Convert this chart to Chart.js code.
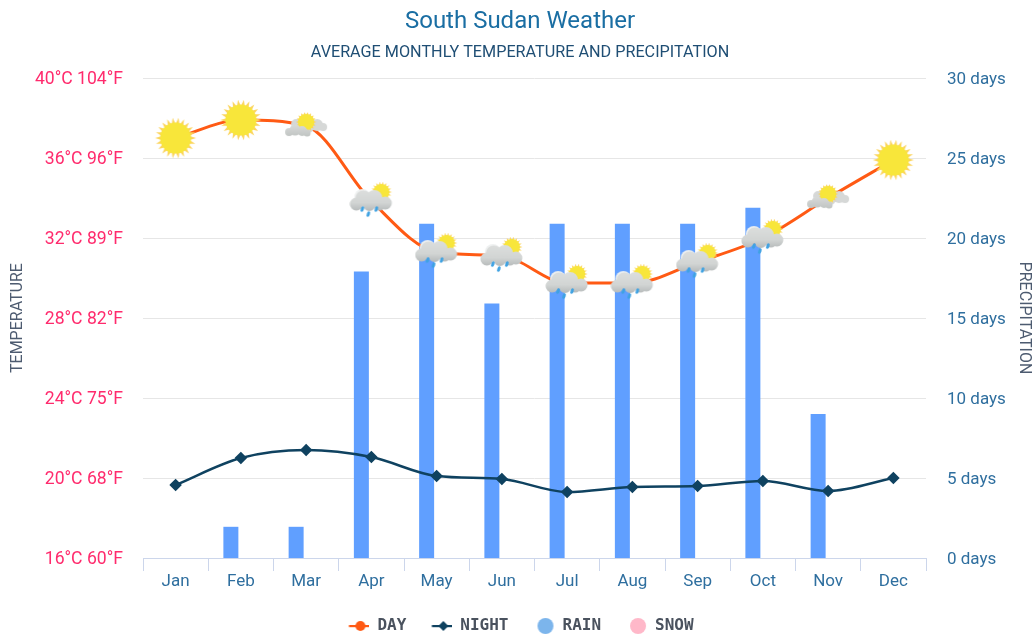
<!DOCTYPE html>
<html><head><meta charset="utf-8">
<script src="https://cdn.jsdelivr.net/npm/chart.js@4"></script>
<style>html,body{margin:0;padding:0;background:#fff}canvas{display:block}</style>
</head><body><canvas id="c" width="1035" height="637"></canvas>
<script>
const months = ['Jan','Feb','Mar','Apr','May','Jun','Jul','Aug','Sep','Oct','Nov','Dec'];
const dayTemp = [37, 37.9, 37.6, 33.85, 31.3, 31.1, 29.75, 29.75, 30.8, 32, 34, 35.9];
const nightTemp = [19.65, 21, 21.4, 21.05, 20.1, 19.95, 19.3, 19.55, 19.6, 19.85, 19.35, 20];
const rainDays = [0, 1.95, 1.95, 17.9, 20.9, 15.9, 20.9, 20.9, 20.9, 21.9, 9, 0];
const snowDays = [0, 0, 0, 0, 0, 0, 0, 0, 0, 0, 0, 0];
const weatherIcons = ['sun','sun','cloud','rain','rain','rain','rain','rain','rain','rain','cloud','sun'];
const tempTicks = {16:'16°C 60°F',20:'20°C 68°F',24:'24°C 75°F',28:'28°C 82°F',32:'32°C 89°F',36:'36°C 96°F',40:'40°C 104°F'};

function mk(w,h,fn){const c=document.createElement('canvas');c.width=w;c.height=h;fn(c.getContext('2d'),w,h);return c;}
function sunBody(g,x,y,r,inner,rayR,n){
  g.fillStyle='#fbd45c';g.beginPath();
  for(let i=0;i<n*2;i++){const a=i*Math.PI/n,R=i%2?inner:rayR;g.lineTo(x+R*Math.cos(a),y+R*Math.sin(a));}
  g.closePath();g.fill();
  g.fillStyle='#f8e63a';g.beginPath();g.arc(x,y,r,0,7);g.fill();
}
function puffs(g,list,col){g.fillStyle=col;g.beginPath();for(const p of list){g.moveTo(p[0]+p[2],p[1]);g.arc(p[0],p[1],p[2],0,7);}g.fill();}
const sunIcon=mk(44,44,g=>{g.filter='blur(0.35px)';sunBody(g,22,22,15.5,14,20.5,22);});
const cloudIcon=mk(44,28,g=>{
  g.filter='blur(0.5px)';
  puffs(g,[[12,12,5],[33,13,6],[39,15,4],[24,15,6]],'#d6d8d7');
  sunBody(g,22,10,8,7.5,10,18);
  const gr=g.createLinearGradient(0,13,0,25);gr.addColorStop(0,'#d8dad9');gr.addColorStop(1,'#bfc3c1');
  puffs(g,[[5,20,4],[11,18,5.5],[18,19,5],[23,21,3.5]],gr);
});
const rainIcon=mk(44,38,g=>{
  g.filter='blur(0.5px)';
  sunBody(g,32,10,8,7,10.5,18);
  puffs(g,[[13,15,8]],'#eef0f0');
  const gr=g.createLinearGradient(0,8,0,29);gr.addColorStop(0,'#dcdedd');gr.addColorStop(.6,'#d2d5d4');gr.addColorStop(1,'#b6baba');
  puffs(g,[[7,22,6.5],[14,16.5,8],[25,16,8],[36,21,6.5],[20,23,6],[30,23,5.5]],gr);
  g.fillStyle='#3fa2e2';
  for(const p of [[13,27],[19,32],[27,27]]){g.beginPath();g.ellipse(p[0],p[1],1.6,2.8,.35,0,7);g.fill();}
});
const iconMap={sun:sunIcon,cloud:cloudIcon,rain:rainIcon};

const boxW=46, graphicX=37;
const legDay=mk(boxW,16,g=>{g.fillStyle='#ff5a14';g.fillRect(graphicX-11.5,7,23,2.2);g.beginPath();g.arc(graphicX,8,5,0,7);g.fill();});
const legNight=mk(boxW,16,g=>{g.fillStyle='#0f4260';g.fillRect(graphicX-11.5,7,23,2.2);g.beginPath();g.moveTo(graphicX,3);g.lineTo(graphicX+5,8);g.lineTo(graphicX,13);g.lineTo(graphicX-5,8);g.fill();});
const legRain=mk(boxW,18,g=>{g.fillStyle='#7cb5ec';g.beginPath();g.arc(graphicX,9,8,0,7);g.fill();});
const legSnow=mk(boxW,18,g=>{g.fillStyle='#ffb8c9';g.beginPath();g.arc(graphicX,9,8,0,7);g.fill();});
const legendItems=[['DAY',legDay],['NIGHT',legNight],['RAIN',legRain],['SNOW',legSnow]];

const nudge={id:'nudge',afterLayout(chart){
  chart.boxes.forEach(b=>{
    if(b===chart.legend){b.left-=9;b.right-=9;b.top+=7;b.bottom+=7;}
    else if(b.options&&typeof b.options.text==='string'&&b.position==='top'){b.left+=2.5;b.right+=2.5;}
  });
}};

new Chart(document.getElementById('c'),{
  type:'bar',
  plugins:[nudge],
  data:{labels:months,datasets:[
    {type:'line',label:'DAY',data:dayTemp,yAxisID:'y',order:1,borderColor:'#ff5a14',borderWidth:3,cubicInterpolationMode:'monotone',
     pointStyle:weatherIcons.map(k=>iconMap[k]),pointRadius:20,clip:false},
    {type:'line',label:'NIGHT',data:nightTemp,yAxisID:'y',order:2,borderColor:'#0f4260',backgroundColor:'#0f4260',borderWidth:2.5,cubicInterpolationMode:'monotone',
     pointStyle:'rectRot',pointRadius:4.5},
    {label:'RAIN',data:rainDays,yAxisID:'yR',order:3,backgroundColor:'#609fff',categoryPercentage:.613,barPercentage:.75},
    {label:'SNOW',data:snowDays,yAxisID:'yR',order:4,backgroundColor:'#ffb8c9',categoryPercentage:.613,barPercentage:.75}
  ]},
  options:{
    responsive:false,animation:false,
    layout:{padding:0},
    plugins:{
      tooltip:{enabled:false},
      title:{display:true,text:'South Sudan Weather',color:'#1a6ea3',font:{family:'Roboto',size:24,weight:'400'},padding:{top:7.6,bottom:7}},
      subtitle:{display:true,text:'AVERAGE MONTHLY TEMPERATURE AND PRECIPITATION',color:'#1f4e74',font:{family:'Roboto',size:16.2,weight:'400'},padding:{top:0,bottom:15.2}},
      legend:{position:'bottom',labels:{
        usePointStyle:true,pointStyleWidth:boxW,padding:0,color:'#4a525e',font:{family:'"DejaVu Sans Mono"',size:16,weight:'700'},
        generateLabels:()=>legendItems.map(it=>({text:it[0],pointStyle:it[1],fillStyle:'#000',strokeStyle:'#000',lineWidth:0,fontColor:'#4a525e',hidden:false}))
      }}
    },
    scales:{
      x:{
        grid:{display:true,drawOnChartArea:false,drawTicks:true,tickLength:13,color:'#ccd6eb'},
        border:{display:true,color:'#ccd6eb',width:1},
        ticks:{color:'#2f6f9f',font:{family:'Roboto',size:17},padding:1,maxRotation:0},
        afterFit:s=>{s.height=53;}
      },
      y:{
        position:'left',min:16,max:40,
        grid:{color:'#e6e6e6',drawTicks:false},border:{display:false},
        ticks:{stepSize:4,color:'#ff2b6d',padding:20,labelOffset:1.5,font:{family:'Roboto',size:17.6},callback:v=>tempTicks[v]},
        title:{display:true,text:'TEMPERATURE',color:'#4d5b70',font:{family:'Roboto',size:16},padding:{top:8.4,bottom:0}},
        afterFit:s=>{s.width=143;}
      },
      yR:{
        position:'right',min:0,max:30,
        grid:{display:false,drawTicks:false},border:{display:false},
        ticks:{stepSize:5,color:'#2f6f9f',padding:21,labelOffset:1.5,font:{family:'Roboto',size:17},callback:v=>v+' days'},
        title:{display:true,text:'PRECIPITATION',color:'#4d5b70',font:{family:'Roboto',size:16},padding:{top:1.4,bottom:0}},
        afterFit:s=>{s.width=109;}
      }
    }
  }
});
</script></body></html>
